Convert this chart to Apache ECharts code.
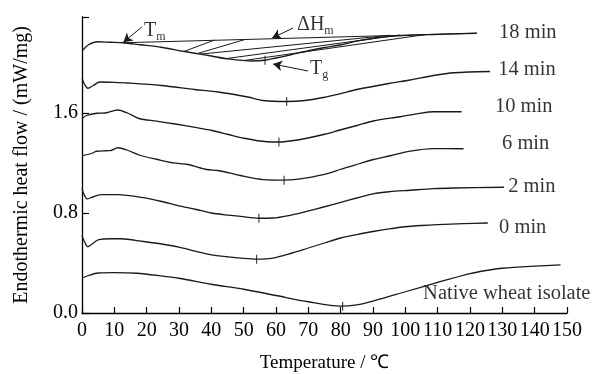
<!DOCTYPE html>
<html>
<head>
<meta charset="utf-8">
<script src="https://cdn.jsdelivr.net/npm/echarts@6/dist/echarts.min.js"></script>
<style>
	html, body { margin: 0; padding: 0; background: #fff; }
	#main { width: 594px; height: 374px; }
</style>
</head>
<body>
<div id="main"></div>
<script>
// temperature (℃) and heat flow (mW/mg)
var tNative = [0, 2, 5, 10, 17, 25, 30, 40, 50, 60, 70, 80, 85, 90, 100, 110, 120, 125, 130, 140, 148];
var vNative = [0.28, 0.30, 0.32, 0.323, 0.318, 0.295, 0.278, 0.23, 0.19, 0.14, 0.09, 0.055, 0.065, 0.095, 0.17, 0.245, 0.315, 0.34, 0.358, 0.375, 0.385];

var t0 = [0, 0.6, 1.8, 3, 5, 9, 12, 19, 25, 30, 35, 40, 45, 50, 54, 59, 65, 70, 75, 80, 85, 90, 95, 100, 105, 110, 118, 125.5];
var v0 = [0.62, 0.58, 0.53, 0.55, 0.585, 0.594, 0.594, 0.572, 0.55, 0.527, 0.495, 0.465, 0.45, 0.437, 0.431, 0.439, 0.48, 0.52, 0.56, 0.6, 0.627, 0.652, 0.673, 0.69, 0.70, 0.707, 0.715, 0.72];

var t2 = [0, 0.6, 1.6, 3, 5.8, 11, 19.4, 25, 29.7, 35, 40, 45, 49, 54.7, 59, 65, 69.5, 75, 80, 85, 90, 95, 101.5, 108.7, 115, 130.5];
var v2 = [0.995, 0.95, 0.913, 0.925, 0.947, 0.947, 0.921, 0.89, 0.859, 0.83, 0.80, 0.783, 0.773, 0.758, 0.76, 0.785, 0.813, 0.85, 0.885, 0.92, 0.953, 0.97, 0.982, 0.995, 1.0, 1.006];

var t6 = [0, 2.9, 4.5, 7.6, 9, 11.1, 13.9, 18.1, 23, 28.2, 32.8, 38.6, 42.1, 48.9, 56.1, 62.5, 69.5, 76.7, 79.8, 86, 90.1, 95.3, 101.5, 108.7, 118];
var v6 = [1.258, 1.276, 1.294, 1.298, 1.30, 1.322, 1.304, 1.26, 1.23, 1.201, 1.188, 1.148, 1.14, 1.10, 1.067, 1.063, 1.081, 1.121, 1.148, 1.196, 1.228, 1.258, 1.295, 1.315, 1.314];

var t10 = [0, 1.4, 4.6, 7.7, 11, 14.1, 17.6, 23, 28.8, 35, 40.2, 45, 50.1, 57.1, 60.9, 65, 69.5, 75, 79.8, 85, 90.1, 98.4, 104, 108.7, 117.4];
var v10 = [1.554, 1.58, 1.598, 1.602, 1.624, 1.60, 1.556, 1.535, 1.512, 1.485, 1.46, 1.43, 1.398, 1.37, 1.368, 1.378, 1.398, 1.43, 1.464, 1.5, 1.536, 1.57, 1.595, 1.61, 1.61];

var t14 = [0, 0.8, 1.8, 3.5, 5.5, 10, 14.2, 24.5, 34.8, 42.1, 51.3, 56.1, 63.3, 69, 74.6, 80, 85, 95.3, 101.5, 108.7, 115, 126.2];
var v14 = [1.878, 1.83, 1.798, 1.82, 1.848, 1.845, 1.84, 1.82, 1.788, 1.768, 1.728, 1.70, 1.692, 1.70, 1.724, 1.755, 1.788, 1.838, 1.864, 1.90, 1.922, 1.932];

var t18 = [0.3, 1.9, 4.9, 8.7, 12.7, 18, 24.5, 31.3, 34.9, 40, 44.8, 52.6, 56.6, 60, 64.3, 70, 75, 79.8, 85, 92.2, 101.5, 108.6, 122.1];
var v18 = [2.104, 2.144, 2.17, 2.166, 2.162, 2.146, 2.126, 2.094, 2.078, 2.056, 2.034, 2.016, 2.022, 2.04, 2.064, 2.098, 2.124, 2.144, 2.175, 2.206, 2.222, 2.228, 2.238];

// Tg marks (small vertical ticks on each curve)
var tgT = [56.6, 63.3, 60.9, 62.5, 54.7, 54, 80.6];
var tgV = [2.022, 1.692, 1.368, 1.063, 0.758, 0.431, 0.055];

// melting baseline of the 18 min curve and the hatching under it
var baseT = [12.7, 122.1];
var baseV = [2.162, 2.238];
var hatchT0 = [31.5, 35.6, 36.5, 44.5, 50.4];
var hatchV0 = [2.092, 2.075, 2.071, 2.035, 2.021];
var hatchT1 = [41.0, 50.4, 95.3, 98.4, 106.1];
var hatchV1 = [2.184, 2.188, 2.222, 2.224, 2.227];

// curve names
var labelText = ['18 min', '14 min', '10 min', '6 min', '2 min', '0 min', 'Native wheat isolate'];
var labelT = [129, 128.7, 127.7, 129.9, 131.8, 129, 105.5];
var labelV = [2.24, 1.944, 1.648, 1.352, 1.008, 0.68, 0.152];

// annotations: text and arrows (tail -> head)
var noteText = ['{a|T}{b|m}', '{a|ΔH}{b|m}', '{a|T}{b|g}'];
var noteT = [19.2, 66.5, 70.5];
var noteV = [2.256, 2.308, 1.956];
var arrowFromT = [18.5, 65.3, 69.9];
var arrowFromV = [2.288, 2.28, 1.936];
var arrowToT = [12.8, 58.8, 59.1];
var arrowToV = [2.166, 2.2, 1.992];

// axis ticks
var xTicks = 10;
var yTickValues = [0, 0.8, 1.6, 2.37];
var yLabelValues = [0, 0.8, 1.6];

var FONT = 'Liberation Serif';
var INK = '#1a1a1a';

function pairs(t, v) {
	var out = [];
	for (var i = 0; i < t.length; i++) {
		out.push([t[i], v[i]]);
	}
	return out;
}

function curve(t, v) {
	return {
		type : 'line',
		data : pairs(t, v),
		showSymbol : false,
		smooth : 0.3,
		silent : true,
		lineStyle : { color : INK, width : 1.3 }
	};
}

var hatchLines = [];
for (var i = 0; i < hatchT0.length; i++) {
	hatchLines.push([ { coord : [hatchT0[i], hatchV0[i]] }, { coord : [hatchT1[i], hatchV1[i]] } ]);
}
var arrowLines = [];
for (var j = 0; j < arrowFromT.length; j++) {
	arrowLines.push([ { coord : [arrowFromT[j], arrowFromV[j]] }, { coord : [arrowToT[j], arrowToV[j]] } ]);
}
var labelData = [];
for (var k = 0; k < labelText.length; k++) {
	labelData.push({ value : [labelT[k], labelV[k]], name : labelText[k] });
}
var noteData = [];
for (var n = 0; n < noteText.length; n++) {
	noteData.push({ value : [noteT[n], noteV[n]], name : noteText[n] });
}

var myChart = echarts.init(document.getElementById('main'), null, { renderer : 'canvas' });
var option = {
	animation : false,
	backgroundColor : '#fff',
	textStyle : { fontFamily : FONT, color : '#000' },
	grid : { left : 82, right : 27, top : 16.75, bottom : 61, containLabel : false, outerBoundsMode : 'none' },
	xAxis : {
		type : 'value',
		min : 0,
		max : 150,
		interval : xTicks,
		name : 'Temperature / ℃',
		nameLocation : 'middle',
		nameGap : 41,
		nameTextStyle : { fontFamily : FONT, fontSize : 19, color : '#000' },
		axisLine : { lineStyle : { color : '#000', width : 1.3 } },
		axisTick : { inside : true, length : 6, lineStyle : { color : '#000', width : 1.2 } },
		axisLabel : { fontFamily : FONT, fontSize : 20, color : '#000', margin : 8 },
		splitLine : { show : false }
	},
	yAxis : {
		type : 'value',
		min : 0,
		max : 2.37,
		name : 'Endothermic heat flow / (mW/mg)',
		nameLocation : 'middle',
		nameGap : 50,
		nameRotate : 90,
		nameTextStyle : { fontFamily : FONT, fontSize : 20, color : '#000' },
		axisLine : { show : true, lineStyle : { color : '#000', width : 1.3 } },
		axisTick : { show : true, inside : true, length : 7, customValues : yTickValues, lineStyle : { color : '#000', width : 1.2 } },
		axisLabel : {
			fontFamily : FONT, fontSize : 20, color : '#000', margin : 4,
			customValues : yLabelValues,
			formatter : function(v) { return Number(v).toFixed(1); }
		},
		splitLine : { show : false }
	},
	series : [
		curve(tNative, vNative),
		curve(t0, v0),
		curve(t2, v2),
		curve(t6, v6),
		curve(t10, v10),
		curve(t14, v14),
		curve(t18, v18),
		{
			// baseline + hatching
			type : 'line',
			data : pairs(baseT, baseV),
			showSymbol : false,
			silent : true,
			lineStyle : { color : INK, width : 1.2 },
			markLine : {
				silent : true,
				symbol : ['none', 'none'],
				label : { show : false },
				lineStyle : { color : INK, width : 1, type : 'solid' },
				data : hatchLines
			}
		},
		{
			// annotation arrows
			type : 'line',
			data : [],
			markLine : {
				silent : true,
				symbol : ['none', 'arrow'],
				symbolSize : [8, 9],
				label : { show : false },
				lineStyle : { color : INK, width : 1, type : 'solid' },
				data : arrowLines
			}
		},
		{
			type : 'scatter',
			data : pairs(tgT, tgV),
			symbol : 'rect',
			symbolSize : [1.2, 9],
			silent : true,
			itemStyle : { color : INK }
		},
		{
			type : 'scatter',
			data : labelData,
			symbolSize : 0,
			silent : true,
			clip : false,
			label : {
				show : true,
				position : 'right',
				distance : 0,
				formatter : '{b}',
				fontFamily : FONT,
				fontSize : 20.5,
				color : '#000'
			}
		},
		{
			type : 'scatter',
			data : noteData,
			symbolSize : 0,
			silent : true,
			clip : false,
			label : {
				show : true,
				position : 'right',
				distance : 0,
				formatter : function(p) { return p.name; },
				rich : {
					a : { fontFamily : FONT, fontSize : 20, color : '#000', lineHeight : 22 },
					b : { fontFamily : FONT, fontSize : 12, color : '#000', lineHeight : 24, verticalAlign : 'bottom' }
				}
			}
		}
	]
};
myChart.setOption(option);
</script>
</body>
</html>
